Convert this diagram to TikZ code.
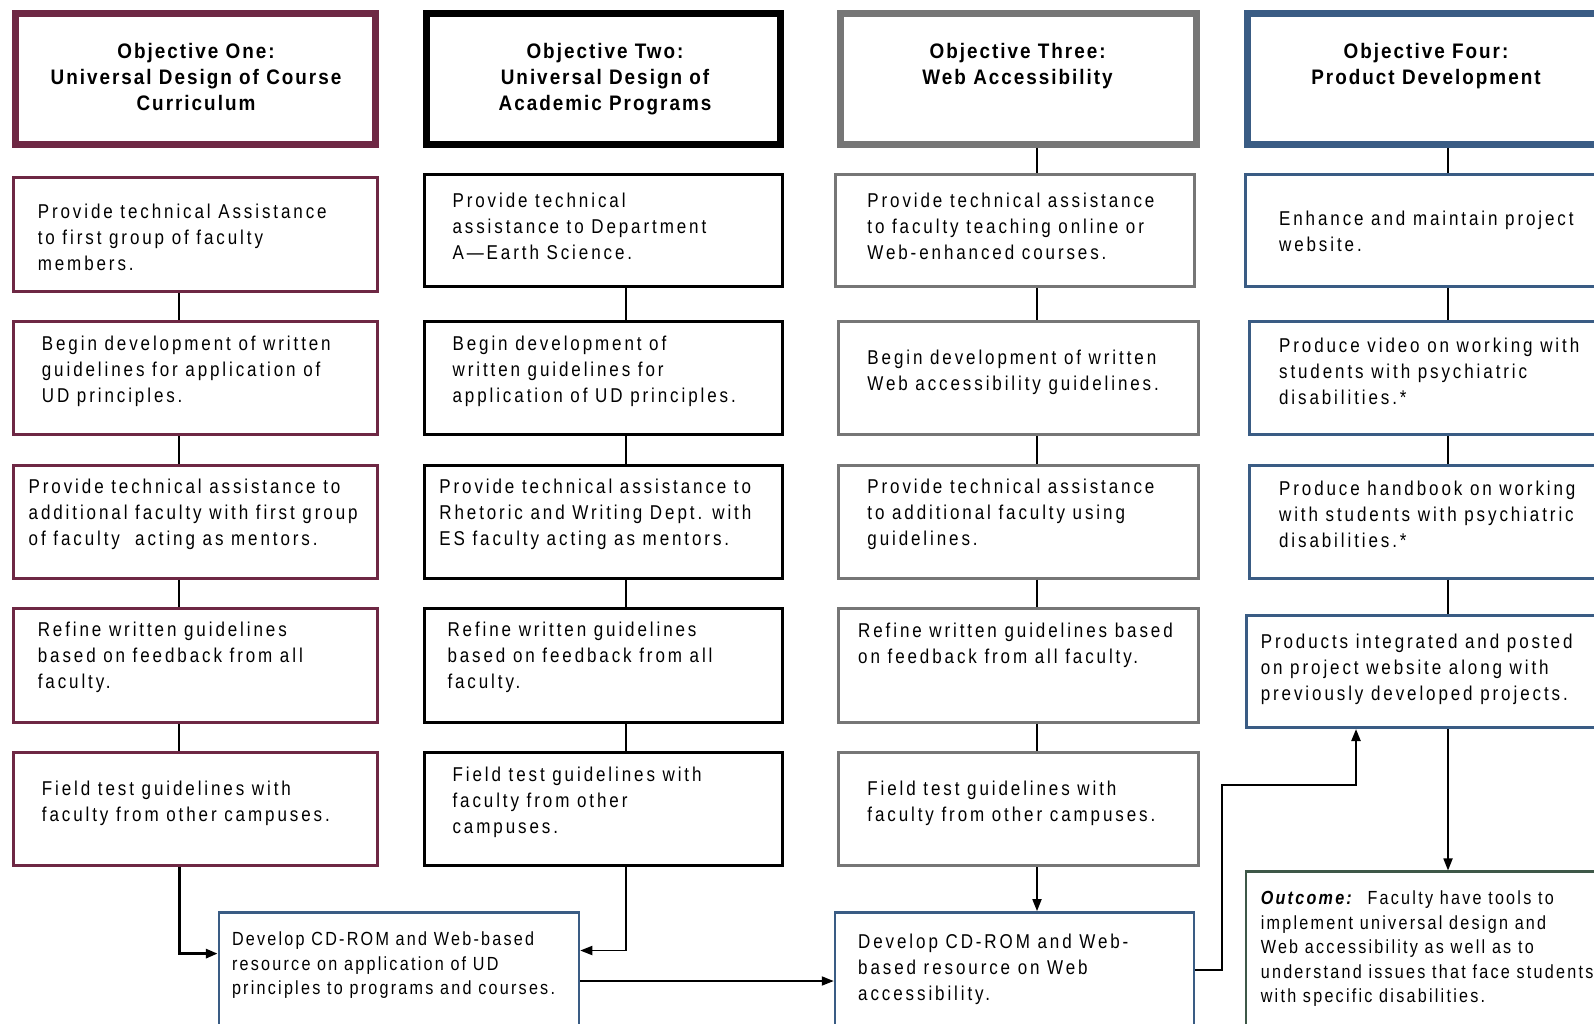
\documentclass[tikz,border=0pt]{standalone}
\usepackage{fontspec}
\usetikzlibrary{arrows.meta}
\setmainfont{Liberation Sans}[FakeStretch=0.85]
\newfontfamily\bodyfont{Liberation Sans}[FakeStretch=0.85,LetterSpace=14.5]
\newfontfamily\headfont{Liberation Sans}[FakeStretch=0.9,LetterSpace=9.5]
\newfontfamily\smallfont{Liberation Sans}[FakeStretch=0.85,LetterSpace=11.8]
\definecolor{cmaroon}{RGB}{110,40,68}
\definecolor{cgray}{RGB}{118,118,118}
\definecolor{cblue}{RGB}{58,92,132}
\definecolor{cgreen}{RGB}{62,88,72}
\begin{document}
\begin{tikzpicture}[x=1pt,y=-1pt,
  box/.style={draw, inner sep=0pt, fill=white},
  hbox/.style={box, line width=7pt},
  rbox/.style={box, line width=3pt},
  body/.style={font=\bodyfont\fontsize{20}{26}\selectfont, align=left, anchor=west, inner sep=0pt},
  bodytop/.style={font=\bodyfont\fontsize{20}{26}\selectfont, align=left, anchor=north west, inner sep=0pt},
  small/.style={font=\smallfont\fontsize{19}{24.4}\selectfont, align=left, anchor=north west, inner sep=0pt},
  head/.style={font=\headfont\bfseries\fontsize{21}{26}\selectfont, align=center, anchor=north, inner sep=0pt},
  link/.style={draw=black, line width=2pt},
  arr/.style={draw=black, line width=2pt, -{Triangle[length=12pt,width=9pt]}}
]
\useasboundingbox (0,0) rectangle (1594,1024);
\fill[white] (0,0) rectangle (1594,1024);

% headers
\node[hbox, draw=cmaroon, minimum width=360pt, minimum height=131pt] (h1) at (195.5,79) {};
\node[hbox, draw=black, minimum width=354pt, minimum height=131pt] (h2) at (603.5,79) {};
\node[hbox, draw=cgray, minimum width=356pt, minimum height=131pt] (h3) at (1018.5,79) {};
\node[hbox, draw=cblue, minimum width=354pt, minimum height=131pt] (h4) at (1424.5,79) {};
\node[head] (th1) at (196,43.5) {Objective One:\\Universal Design of Course\\Curriculum};
\node[head] (th2) at (605,43.5) {Objective Two:\\Universal Design of\\Academic Programs};
\node[head] (th3) at (1017.6,43.5) {Objective Three:\\Web Accessibility};
\node[head] (th4) at (1426,43.5) {Objective Four:\\Product Development};

% column 1
\node[rbox, draw=cmaroon, minimum width=364pt, minimum height=114pt] (b11) at (195.5,234.3) {};
\node[rbox, draw=cmaroon, minimum width=364pt, minimum height=113pt] (b12) at (195.5,378.2) {};
\node[rbox, draw=cmaroon, minimum width=364pt, minimum height=113pt] (b13) at (195.5,521.5) {};
\node[rbox, draw=cmaroon, minimum width=364pt, minimum height=114pt] (b14) at (195.5,665.4) {};
\node[rbox, draw=cmaroon, minimum width=364pt, minimum height=113pt] (b15) at (195.5,809.3) {};
% column 2
\node[rbox, draw=black, minimum width=358pt, minimum height=112pt] (b21) at (603.5,230.5) {};
\node[rbox, draw=black, minimum width=358pt, minimum height=113pt] (b22) at (603.5,378.2) {};
\node[rbox, draw=black, minimum width=358pt, minimum height=113pt] (b23) at (603.5,521.5) {};
\node[rbox, draw=black, minimum width=358pt, minimum height=114pt] (b24) at (603.5,665.4) {};
\node[rbox, draw=black, minimum width=358pt, minimum height=113pt] (b25) at (603.5,809.3) {};
% column 3
\node[rbox, draw=cgray, minimum width=359pt, minimum height=112pt] (b31) at (1014.5,230.5) {};
\node[rbox, draw=cgray, minimum width=360pt, minimum height=113pt] (b32) at (1018.2,378.2) {};
\node[rbox, draw=cgray, minimum width=360pt, minimum height=113pt] (b33) at (1018.2,521.5) {};
\node[rbox, draw=cgray, minimum width=360pt, minimum height=114pt] (b34) at (1018.2,665.4) {};
\node[rbox, draw=cgray, minimum width=360pt, minimum height=113pt] (b35) at (1018.2,809.3) {};
% column 4
\node[rbox, draw=cblue, minimum width=356.5pt, minimum height=112pt] (b41) at (1423.75,230.5) {};
\node[rbox, draw=cblue, minimum width=353pt, minimum height=113pt] (b42) at (1425.5,378.2) {};
\node[rbox, draw=cblue, minimum width=353pt, minimum height=113pt] (b43) at (1425.5,521.5) {};
\node[rbox, draw=cblue, minimum width=356pt, minimum height=112pt] (b44) at (1424,671.5) {};
% bottom
\node[box, line width=2.5pt, draw=cblue, minimum width=360pt, minimum height=127.6pt] (cd1) at (399,976.2) {};
\node[box, line width=2.5pt, draw=cblue, minimum width=359pt, minimum height=127.6pt] (cd2) at (1014.5,976.2) {};
\node[box, line width=2.5pt, draw=cgreen, minimum width=356pt, minimum height=168.3pt] (out) at (1424,955.85) {};

% texts column 1
\node[body] (t11) at (37.6,236.9) {Provide technical Assistance\\to first group of faculty\\members.};
\node[body] (t12) at (41.7,371) {Begin development of written\\guidelines for application of\\UD principles.};
\node[body] (t13) at (28.5,514.4) {Provide technical assistance to\\additional faculty with first group\\of faculty\ \ acting as mentors.};
\node[body] (t14) at (37.6,657.7) {Refine written guidelines\\based on feedback from all\\faculty.};
\node[body] (t15) at (41.7,803.6) {Field test guidelines with\\faculty from other campuses.};
% texts column 2
\node[body] (t21) at (452.4,226.7) {Provide technical\\assistance to Department\\A—Earth Science.};
\node[body] (t22) at (452.4,371) {Begin development of\\written guidelines for\\application of UD principles.};
\node[body] (t23) at (439.2,514.4) {Provide technical assistance to\\Rhetoric and Writing Dept. with\\ES faculty acting as mentors.};
\node[body] (t24) at (447.3,657.7) {Refine written guidelines\\based on feedback from all\\faculty.};
\node[body] (t25) at (452.4,802.1) {Field test guidelines with\\faculty from other\\campuses.};
% texts column 3
\node[body] (t31) at (867.2,226.7) {Provide technical assistance\\to faculty teaching online or\\Web-enhanced courses.};
\node[body] (t32) at (867.2,372.1) {Begin development of written\\Web accessibility guidelines.};
\node[body] (t33) at (867.2,514.4) {Provide technical assistance\\to additional faculty using\\guidelines.};
\node[body] (t34) at (858,645) {Refine written guidelines based\\on feedback from all faculty.};
\node[body] (t35) at (867.2,803.6) {Field test guidelines with\\faculty from other campuses.};
% texts column 4
\node[body] (t41) at (1278.9,231.8) {Enhance and maintain project\\website.};
\node[body] (t42) at (1278.9,371) {Produce video on working with\\students with psychiatric\\disabilities.*};
\node[body] (t43) at (1278.9,514.4) {Produce handbook on working\\with students with psychiatric\\disabilities.*};
\node[body] (t44) at (1260.6,669) {Products integrated and posted\\on project website along with\\previously developed projects.};
% bottom texts
\node[small] (tcd1) at (231.8,931.7) {Develop CD-ROM and Web-based\\resource on application of UD\\principles to programs and courses.};
\node[bodytop] (tcd2) at (858,933.7) {Develop CD-ROM and Web-\\based resource on Web\\accessibility.};
\node[small] (tout) at (1260.6,891) {\textbf{\textit{Outcome:}}\ \ Faculty have tools to\\implement universal design and\\Web accessibility as well as to\\understand issues that face students\\with specific disabilities.};

% connector x positions
\coordinate (c1x) at (179,0);
\coordinate (c2x) at (626,0);
\coordinate (c3x) at (1037,0);
\coordinate (c4x) at (1448,0);

% vertical links
\draw[link, line width=2.5pt] (b11.south -| c1x) -- (b12.north -| c1x);
\draw[link, line width=2.5pt] (b12.south -| c1x) -- (b13.north -| c1x);
\draw[link, line width=2.5pt] (b13.south -| c1x) -- (b14.north -| c1x);
\draw[link, line width=2.5pt] (b14.south -| c1x) -- (b15.north -| c1x);
\draw[link] (b21.south -| c2x) -- (b22.north -| c2x);
\draw[link] (b22.south -| c2x) -- (b23.north -| c2x);
\draw[link] (b23.south -| c2x) -- (b24.north -| c2x);
\draw[link] (b24.south -| c2x) -- (b25.north -| c2x);
\draw[link, line width=1.8pt] (h3.south -| c3x) -- (b31.north -| c3x);
\draw[link, line width=1.8pt] (b31.south -| c3x) -- (b32.north -| c3x);
\draw[link, line width=1.8pt] (b32.south -| c3x) -- (b33.north -| c3x);
\draw[link, line width=1.8pt] (b33.south -| c3x) -- (b34.north -| c3x);
\draw[link, line width=1.8pt] (b34.south -| c3x) -- (b35.north -| c3x);
\draw[link] (h4.south -| c4x) -- (b41.north -| c4x);
\draw[link] (b41.south -| c4x) -- (b42.north -| c4x);
\draw[link] (b42.south -| c4x) -- (b43.north -| c4x);
\draw[link] (b43.south -| c4x) -- (b44.north -| c4x);

% arrows
\coordinate (a1) at (179,953.6);
\coordinate (a2) at (626,950.5);
\coordinate (a3) at (0,981);
\coordinate (a4) at (1222,969.8);
\coordinate (a5) at (1356,784.8);
\draw[arr, line width=3pt] (b15.south -| a1) |- (cd1.west |- a1);
\draw[arr, line width=1.8pt] (b25.south -| a2) |- (cd1.east |- a2);
\draw[arr, line width=1.8pt] (cd1.east |- a3) -- (cd2.west |- a3);
\draw[arr, line width=1.8pt] (b35.south -| c3x) -- (cd2.north -| c3x);
\draw[arr, line width=2.2pt] (cd2.east |- a4) -- (a4) |- (a5) -- (b44.south -| a5);
\draw[arr, line width=1.8pt] (b44.south -| c4x) -- (out.north -| c4x);
\end{tikzpicture}
\end{document}
